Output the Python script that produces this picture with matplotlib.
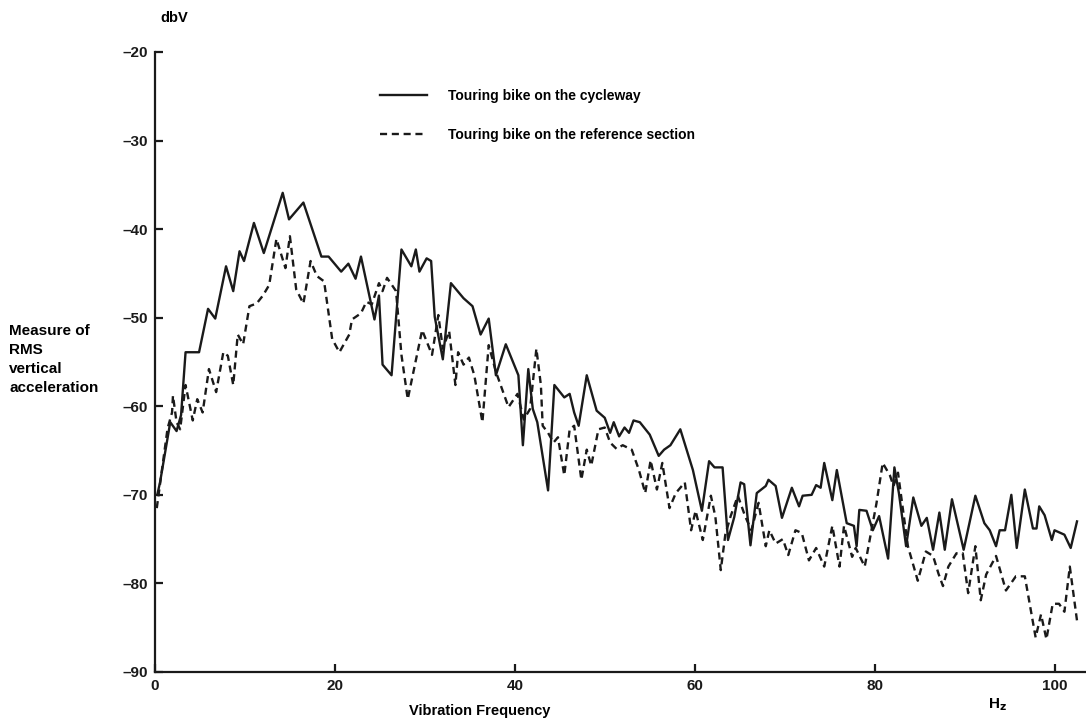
import matplotlib
matplotlib.use("Agg")
import matplotlib.pyplot as plt

# Touring bike on the cycleway (solid)
cyc_hz = [0.3, 0.56, 1.7, 2.4, 2.9, 3.4, 4.9, 5.9, 6.7, 7.9, 8.7, 9.4, 9.9, 11.0, 12.1,
          14.2, 14.9, 16.5, 18.5, 19.3, 20.7, 21.5, 22.3, 22.9, 24.4, 24.9, 25.3, 26.3,
          27.4, 28.5, 29.0, 29.4, 30.2, 30.7, 31.1, 32.0, 32.9, 34.3, 35.3, 36.2, 37.1,
          37.9, 39.0, 40.4, 40.9, 41.5, 42.0, 42.5, 43.7, 44.4, 45.5, 46.1, 46.6, 47.1,
          48.0, 49.1, 50.0, 50.6, 51.0, 51.6, 52.2, 52.7, 53.2, 53.9, 55.0, 56.0, 56.6,
          57.3, 58.4, 59.8, 60.8, 61.6, 62.2, 63.1, 63.7, 64.4, 65.1, 65.5, 66.2, 66.9,
          67.9, 68.2, 69.0, 69.7, 70.8, 71.6, 72.0, 73.0, 73.5, 74.0, 74.4, 75.3, 75.8,
          76.9, 77.7, 78.0, 78.3, 79.1, 79.8, 80.5, 81.5, 82.2, 82.7, 83.5, 84.3, 85.2,
          85.8, 86.5, 87.2, 87.8, 88.6, 89.9, 91.2, 92.2, 92.8, 93.5, 93.9, 94.5, 95.2,
          95.8, 96.7, 97.6, 98.0, 98.3, 98.9, 99.7, 100.0, 101.1, 101.8, 102.5]
cyc_db = [-69.8, -68.6, -61.8, -62.8, -61.0, -53.9, -53.9, -49.0, -50.1, -44.2, -47.0,
          -42.5, -43.6, -39.3, -42.7, -35.9, -38.9, -37.0, -43.1, -43.1, -44.8, -43.9,
          -45.6, -43.1, -50.2, -47.5, -55.3, -56.5, -42.3, -44.2, -42.3, -44.8, -43.3,
          -43.6, -49.9, -54.7, -46.1, -47.8, -48.7, -51.9, -50.1, -56.5, -53.0, -56.5,
          -64.4, -55.8, -60.3, -61.8, -69.5, -57.6, -59.0, -58.6, -60.7, -62.2, -56.5,
          -60.5, -61.3, -63.0, -61.8, -63.4, -62.4, -63.0, -61.6, -61.8, -63.2, -65.6,
          -64.9, -64.4, -62.6, -67.2, -71.8, -66.2, -66.9, -66.9, -75.1, -72.5, -68.6,
          -68.8, -75.7, -69.8, -69.0, -68.3, -69.0, -72.6, -69.2, -71.3, -70.1, -70.0,
          -68.9, -69.2, -66.4, -70.6, -67.2, -73.2, -73.5, -75.8, -71.7, -71.8, -74.0,
          -72.4, -77.2, -66.9, -69.8, -75.8, -70.3, -73.5, -72.6, -76.2, -72.0, -76.2,
          -70.5, -76.2, -70.1, -73.2, -74.0, -75.8, -74.0, -74.0, -70.0, -76.0, -69.4,
          -73.8, -73.8, -71.3, -72.3, -75.1, -74.0, -74.5, -76.0, -73.0]

# Touring bike on the reference section (dashed)
ref_hz = [0.2, 0.8, 1.4, 1.9, 2.0, 2.4, 2.8, 3.4, 4.2, 4.7, 5.3, 6.0, 6.8, 7.6, 8.1, 8.7,
          9.2, 9.8, 10.5, 11.3, 12.0, 12.7, 13.5, 14.1, 14.5, 15.0, 15.7, 16.5, 17.3,
          18.0, 18.8, 19.7, 20.5, 21.0, 21.6, 21.9, 22.9, 23.5, 24.1, 24.9, 25.3, 25.8,
          26.8, 27.4, 28.1, 29.7, 30.8, 31.5, 32.0, 32.7, 33.4, 33.7, 34.3, 34.9, 35.5,
          36.4, 37.1, 37.9, 39.3, 40.3, 41.0, 41.7, 42.4, 42.9, 43.1, 43.7, 44.3, 44.8,
          45.5, 46.1, 46.6, 47.4, 48.0, 48.5, 49.3, 50.0, 50.6, 51.3, 52.0, 53.0, 53.8,
          54.5, 55.1, 55.8, 56.4, 57.2, 57.9, 58.9, 59.6, 60.1, 60.9, 61.8, 62.3, 62.9,
          63.4, 64.0, 64.8, 65.6, 66.3, 67.1, 67.9, 68.3, 69.0, 69.8, 70.4, 71.2, 71.9,
          72.7, 73.5, 74.4, 75.3, 76.1, 76.6, 77.5, 77.9, 78.9, 79.6, 80.2, 80.9, 81.7,
          82.1, 82.6, 83.1, 83.7, 84.8, 85.7, 86.5, 87.1, 87.6, 88.2, 89.1, 89.8, 90.4,
          91.2, 91.8, 92.4, 93.5, 94.6, 95.7, 96.7, 97.5, 97.9, 98.5, 99.1, 99.8, 100.5,
          101.1, 101.7, 102.5]
ref_db = [-71.5, -67.0, -62.5, -60.7, -58.8, -61.8, -62.6, -57.6, -61.6, -59.2, -60.7,
          -55.8, -58.4, -53.9, -54.3, -57.6, -51.9, -53.0, -48.7, -48.4, -47.5, -46.3,
          -41.1, -43.1, -44.4, -40.8, -46.8, -48.4, -43.6, -45.3, -45.9, -52.4, -53.9,
          -53.0, -51.9, -50.2, -49.5, -48.2, -48.5, -46.1, -47.0, -45.5, -47.0, -54.2,
          -59.2, -51.4, -54.2, -49.7, -53.5, -51.5, -57.6, -53.9, -55.3, -54.5, -56.5,
          -61.8, -53.1, -56.1, -60.1, -58.6, -61.5, -60.3, -53.5, -57.6, -62.2, -63.0,
          -64.1, -63.5, -67.8, -62.6, -62.2, -68.3, -64.9, -66.7, -62.6, -62.4, -64.1,
          -64.8, -64.4, -64.9, -67.2, -69.8, -66.1, -69.4, -66.4, -71.5, -69.8, -68.6,
          -74.0, -71.8, -75.1, -70.1, -72.5, -78.5, -74.5, -72.4, -70.1, -72.4, -74.0,
          -70.9, -75.8, -74.0, -75.5, -75.0, -76.8, -74.0, -74.3, -77.4, -76.0, -78.1,
          -73.5, -78.1, -73.5, -77.0, -76.0, -78.1, -74.3, -71.0, -66.4, -67.8, -69.0,
          -67.5, -71.3, -75.8, -79.7, -76.4, -76.9, -78.9, -80.3, -78.1, -76.6, -76.6,
          -81.1, -75.8, -81.9, -79.0, -76.9, -80.8, -79.2, -79.2, -83.8, -86.1, -83.5,
          -86.3, -82.3, -82.3, -83.2, -78.1, -84.2]

x_ticks = [0, 20, 40, 60, 80, 100]
y_ticks = [-90, -80, -70, -60, -50, -40, -30, -20]

plt.rcParams["font.family"] = ["Liberation Sans", "DejaVu Sans"]
plt.rcParams["font.weight"] = "bold"

fig = plt.figure(figsize=(10.86, 7.18), dpi=100)
ax = fig.add_axes([0.1427, 0.0641, 0.8573, 0.8635])
ink = "#1a1a1a"

ax.plot(cyc_hz, cyc_db, color=ink, lw=1.7, label="Touring bike on the cycleway")
ax.plot(ref_hz, ref_db, color=ink, lw=1.7, dashes=(3, 2),
        label="Touring bike on the reference section")

ax.set_xlim(0, 103.5)
ax.set_ylim(-90, -20)
ax.set_xticks(x_ticks)
ax.set_yticks(y_ticks)
ax.set_yticklabels([f"\u2013{abs(v)}" for v in y_ticks])
for s in ("top", "right"):
    ax.spines[s].set_visible(False)
for s in ("left", "bottom"):
    ax.spines[s].set_linewidth(1.6)
    ax.spines[s].set_color(ink)
ax.tick_params(direction="in", length=6, width=1.6, colors=ink, labelsize=11, pad=5)

ax.legend(loc="upper left", bbox_to_anchor=(0.228, 0.96), frameon=False, fontsize=10,
          handlelength=3.4, handletextpad=1.5, labelspacing=1.75)

fig.text(160 / 1086, 1 - 18 / 718, "dbV", fontsize=10.5, va="center", ha="left")
fig.text(9 / 1086, 1 - 324 / 718, "Measure of\nRMS\nvertical\nacceleration",
         fontsize=11, va="top", ha="left", linespacing=1.45)
fig.text(480 / 1086, 1 - 711 / 718, "Vibration Frequency", fontsize=10.5,
         ha="center", va="center")
fig.text(997 / 1086, 1 - 705 / 718, "H$_\\mathbf{z}$", fontsize=11, ha="center",
         va="center")

fig.savefig("out.png", dpi=100, facecolor="white")
